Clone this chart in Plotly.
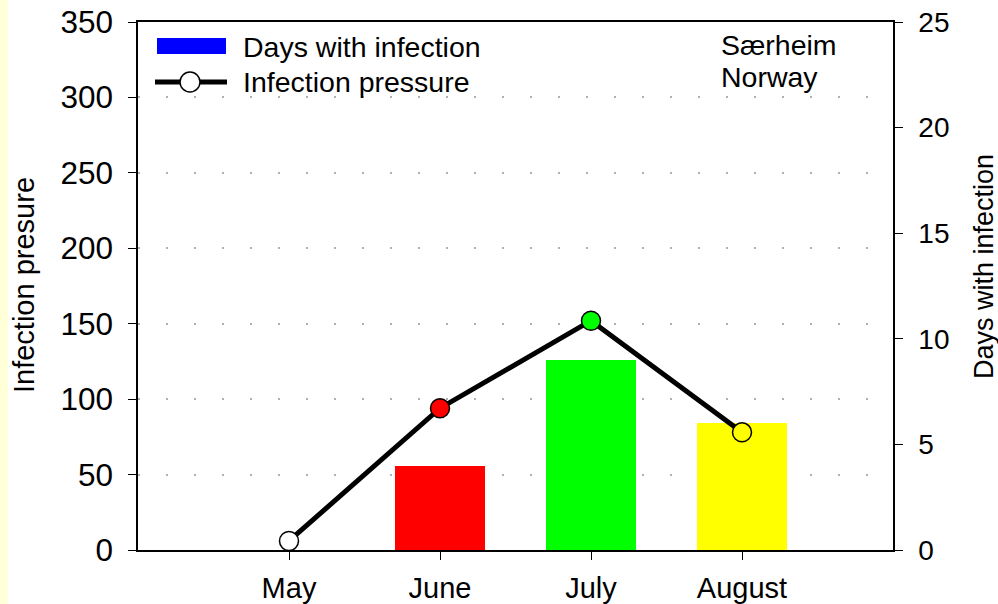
import plotly.graph_objects as go

months = ["May", "June", "July", "August"]
days_with_infection = [0, 4, 9, 6]
infection_pressure = [6, 94, 152, 78]
month_colors = ["#FFFFFF", "#FF0000", "#00FF00", "#FFFF00"]
bar_colors = ["#FFFFFF", "#FF0000", "#00FF00", "#FFFF00"]

W, H = 998, 604
L, R, T, B = 138, 893, 22, 550
PW, PH = R - L, B - T

def px(x):
    return (x - L) / PW

def py(y):
    return (B - y) / PH

FONT = "Liberation Sans, Arial, sans-serif"

fig = go.Figure()
fig.add_trace(go.Bar(
    x=months, y=days_with_infection, width=0.6,
    marker=dict(color=bar_colors, line=dict(width=0)),
    yaxis="y", showlegend=False,
))
fig.add_trace(go.Scatter(
    x=months, y=infection_pressure, mode="lines+markers",
    line=dict(color="black", width=5),
    marker=dict(size=19, color=month_colors, line=dict(color="black", width=1.5)),
    yaxis="y2", showlegend=False,
))

fig.update_layout(
    width=W, height=H,
    margin=dict(l=L, r=W - R, t=T, b=H - B, autoexpand=False),
    paper_bgcolor="white", plot_bgcolor="white",
    font=dict(family=FONT, color="black"),
    xaxis=dict(
        type="category", range=[-1, 4], automargin=False,
        showline=True, linecolor="black", linewidth=1.5, mirror=True,
        ticks="outside", ticklen=8, tickcolor="black", ticklabelstandoff=3,
        tickfont=dict(size=29), showgrid=False, zeroline=False,
    ),
    yaxis=dict(
        side="right", range=[0, 25], tickvals=[0, 5, 10, 15, 20, 25], automargin=False,
        showline=True, linecolor="black", linewidth=1.5,
        ticks="outside", ticklen=8, tickcolor="black", ticklabelstandoff=10,
        tickfont=dict(size=28), showgrid=False, zeroline=False,
    ),
    yaxis2=dict(
        side="left", overlaying="y", range=[0, 350], automargin=False,
        tickvals=[0, 50, 100, 150, 200, 250, 300, 350],
        showline=True, linecolor="black", linewidth=1.5,
        ticks="outside", ticklen=8, tickcolor="black", ticklabelstandoff=9,
        tickfont=dict(size=31.5), zeroline=False,
        showgrid=True, gridcolor="#B0B0B0", gridwidth=1.5, griddash="2px,26px",
    ),
    bargap=0,
)

shapes = [
    # yellow strip at left edge
    dict(type="rect", xref="paper", yref="paper", x0=px(0), x1=px(8), y0=py(604), y1=py(0),
         fillcolor="#FFFFD8", line=dict(width=0), layer="below"),
    # legend: blue rect
    dict(type="rect", xref="paper", yref="paper", x0=px(157), x1=px(226), y0=py(54), y1=py(38),
         fillcolor="#0000FF", line=dict(width=0)),
    # legend: line
    dict(type="line", xref="paper", yref="paper", x0=px(155), x1=px(227), y0=py(82), y1=py(82),
         line=dict(color="black", width=5)),
    # legend: circle
    dict(type="circle", xref="paper", yref="paper", x0=px(180), x1=px(200), y0=py(92), y1=py(72),
         fillcolor="white", line=dict(color="black", width=1.5)),
]

annotations = [
    dict(text="Days with infection", xref="paper", yref="paper", x=px(241), y=py(47),
         xanchor="left", yanchor="middle", showarrow=False, font=dict(size=28.5)),
    dict(text="Infection pressure", xref="paper", yref="paper", x=px(241), y=py(82),
         xanchor="left", yanchor="middle", showarrow=False, font=dict(size=28.5)),
    dict(text="Særheim", xref="paper", yref="paper", x=px(719), y=py(45),
         xanchor="left", yanchor="middle", showarrow=False, font=dict(size=28.5)),
    dict(text="Norway", xref="paper", yref="paper", x=px(719), y=py(77),
         xanchor="left", yanchor="middle", showarrow=False, font=dict(size=28.5)),
    dict(text="Infection presure", xref="paper", yref="paper", x=px(24), y=py(285),
         xanchor="center", yanchor="middle", textangle=-90, showarrow=False, font=dict(size=29)),
    dict(text="Days with infection", xref="paper", yref="paper", x=px(984), y=py(267),
         xanchor="center", yanchor="middle", textangle=-90, showarrow=False, font=dict(size=27)),
]

fig.update_layout(shapes=shapes, annotations=annotations)

fig.write_html("out.html", config={"displayModeBar": False},
               post_script="document.body.style.margin='0';")
